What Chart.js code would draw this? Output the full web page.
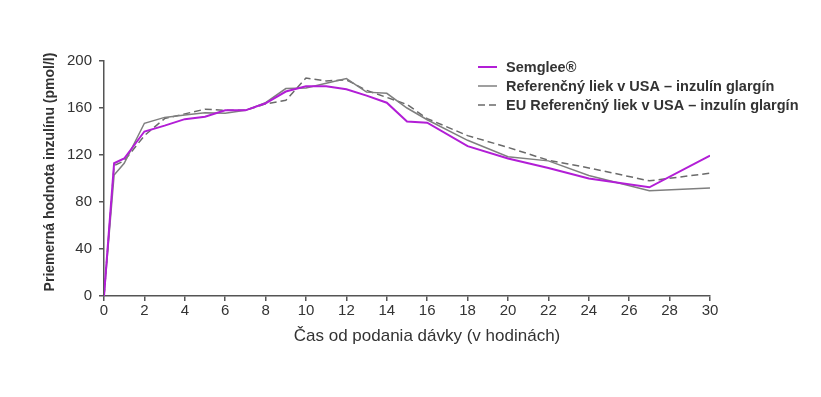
<!DOCTYPE html>
<html>
<head>
<meta charset="utf-8">
<script src="https://cdn.jsdelivr.net/npm/chart.js@4/dist/chart.umd.min.js"></script>
<style>
html,body{margin:0;padding:0;background:#fff;}
#wrap{width:821px;height:397px;position:relative;}
</style>
</head>
<body>
<div id="wrap"><canvas id="c" width="821" height="397"></canvas></div>
<script>
const times   = [0, 0.5, 1, 2, 3, 4, 5, 6, 7, 8, 9, 10, 11, 12, 13, 14, 15, 16, 18, 20, 22, 24, 27, 30];
const semglee = [0, 113, 117, 140, 145, 150.5, 152.5, 158, 158, 164, 174, 178.5, 178.5, 176, 170.5, 164.5, 148.5, 147.5, 127.5, 117, 109, 100, 92.5, 119.5];
const usRef   = [0, 103, 113, 147, 152, 154, 156, 155.5, 158, 164.5, 176.5, 177, 181, 185, 173.5, 172.5, 160, 150, 132.5, 118.5, 115, 102.5, 89.5, 92];
const euRef   = [0, 111, 115, 136.5, 151, 155, 159, 158, 158, 163.5, 166.5, 185.5, 183, 184, 175, 169, 163, 151, 136.5, 126.5, 115.5, 109, 98, 104.5];
const seriesLabels = ['Semglee®', 'Referenčný liek v USA – inzulín glargín', 'EU Referenčný liek v USA – inzulín glargín'];
const xTitle = 'Čas od podania dávky (v hodinách)';
const yTitle = 'Priemerná hodnota inzulínu (pmol/l)';

const toPts = arr => times.map((t, i) => ({x: t, y: arr[i]}));
const FONT = '"Liberation Sans", Arial, sans-serif';
const TXT = '#333333';
const AX = '#555555';

const legendPlugin = {
  id: 'customLegend',
  afterDraw(chart) {
    const ctx = chart.ctx;
    ctx.save();
    ctx.font = 'bold 14.5px ' + FONT;
    ctx.textBaseline = 'middle';
    ctx.textAlign = 'left';
    chart.data.datasets.forEach((ds, i) => {
      const y = 67 + i * 19;
      ctx.beginPath();
      ctx.strokeStyle = ds.borderColor;
      ctx.lineWidth = ds.borderWidth;
      ctx.setLineDash(ds.borderDash || []);
      ctx.moveTo(478, y);
      ctx.lineTo(497, y);
      ctx.stroke();
      ctx.setLineDash([]);
      ctx.fillStyle = TXT;
      ctx.fillText(ds.label, 506, y + 1);
    });
    ctx.restore();
  }
};

const titlePlugin = {
  id: 'axisTitles',
  afterDraw(chart) {
    const ctx = chart.ctx;
    ctx.save();
    ctx.fillStyle = TXT;
    ctx.textAlign = 'center';
    ctx.textBaseline = 'middle';
    ctx.font = '17px ' + FONT;
    ctx.fillText(xTitle, 427, 336);
    ctx.translate(50, 172);
    ctx.rotate(-Math.PI / 2);
    ctx.font = 'bold 14px ' + FONT;
    ctx.fillText(yTitle, 0, 0);
    ctx.restore();
  }
};

new Chart(document.getElementById('c'), {
  type: 'line',
  data: {
    datasets: [
      {label: seriesLabels[0], data: toPts(semglee), borderColor: '#b21ed6', borderWidth: 2, pointRadius: 0, tension: 0},
      {label: seriesLabels[1], data: toPts(usRef), borderColor: '#7f7f7f', borderWidth: 1.5, pointRadius: 0, tension: 0},
      {label: seriesLabels[2], data: toPts(euRef), borderColor: '#6a6a6a', borderWidth: 1.5, borderDash: [7, 4], pointRadius: 0, tension: 0}
    ]
  },
  options: {
    responsive: false,
    animation: false,
    devicePixelRatio: 1,
    layout: {padding: {top: 61, right: 111, left: 0, bottom: 0}},
    plugins: {legend: {display: false}, tooltip: {enabled: false}},
    scales: {
      x: {
        type: 'linear', min: 0, max: 30,
        afterFit(s) { s.height = 101; },
        ticks: {stepSize: 2, color: TXT, font: {family: FONT, size: 15}, padding: 1, maxRotation: 0},
        grid: {drawOnChartArea: false, drawTicks: true, tickLength: 5, color: AX, lineWidth: 1.5},
        border: {color: AX, width: 1.5}
      },
      y: {
        min: 0, max: 200,
        afterFit(s) { s.width = 104; },
        ticks: {stepSize: 40, color: TXT, font: {family: FONT, size: 15}, padding: 7},
        grid: {drawOnChartArea: false, drawTicks: true, tickLength: 5, color: AX, lineWidth: 1.5},
        border: {color: AX, width: 1.5}
      }
    }
  },
  plugins: [legendPlugin, titlePlugin]
});
</script>
</body>
</html>
